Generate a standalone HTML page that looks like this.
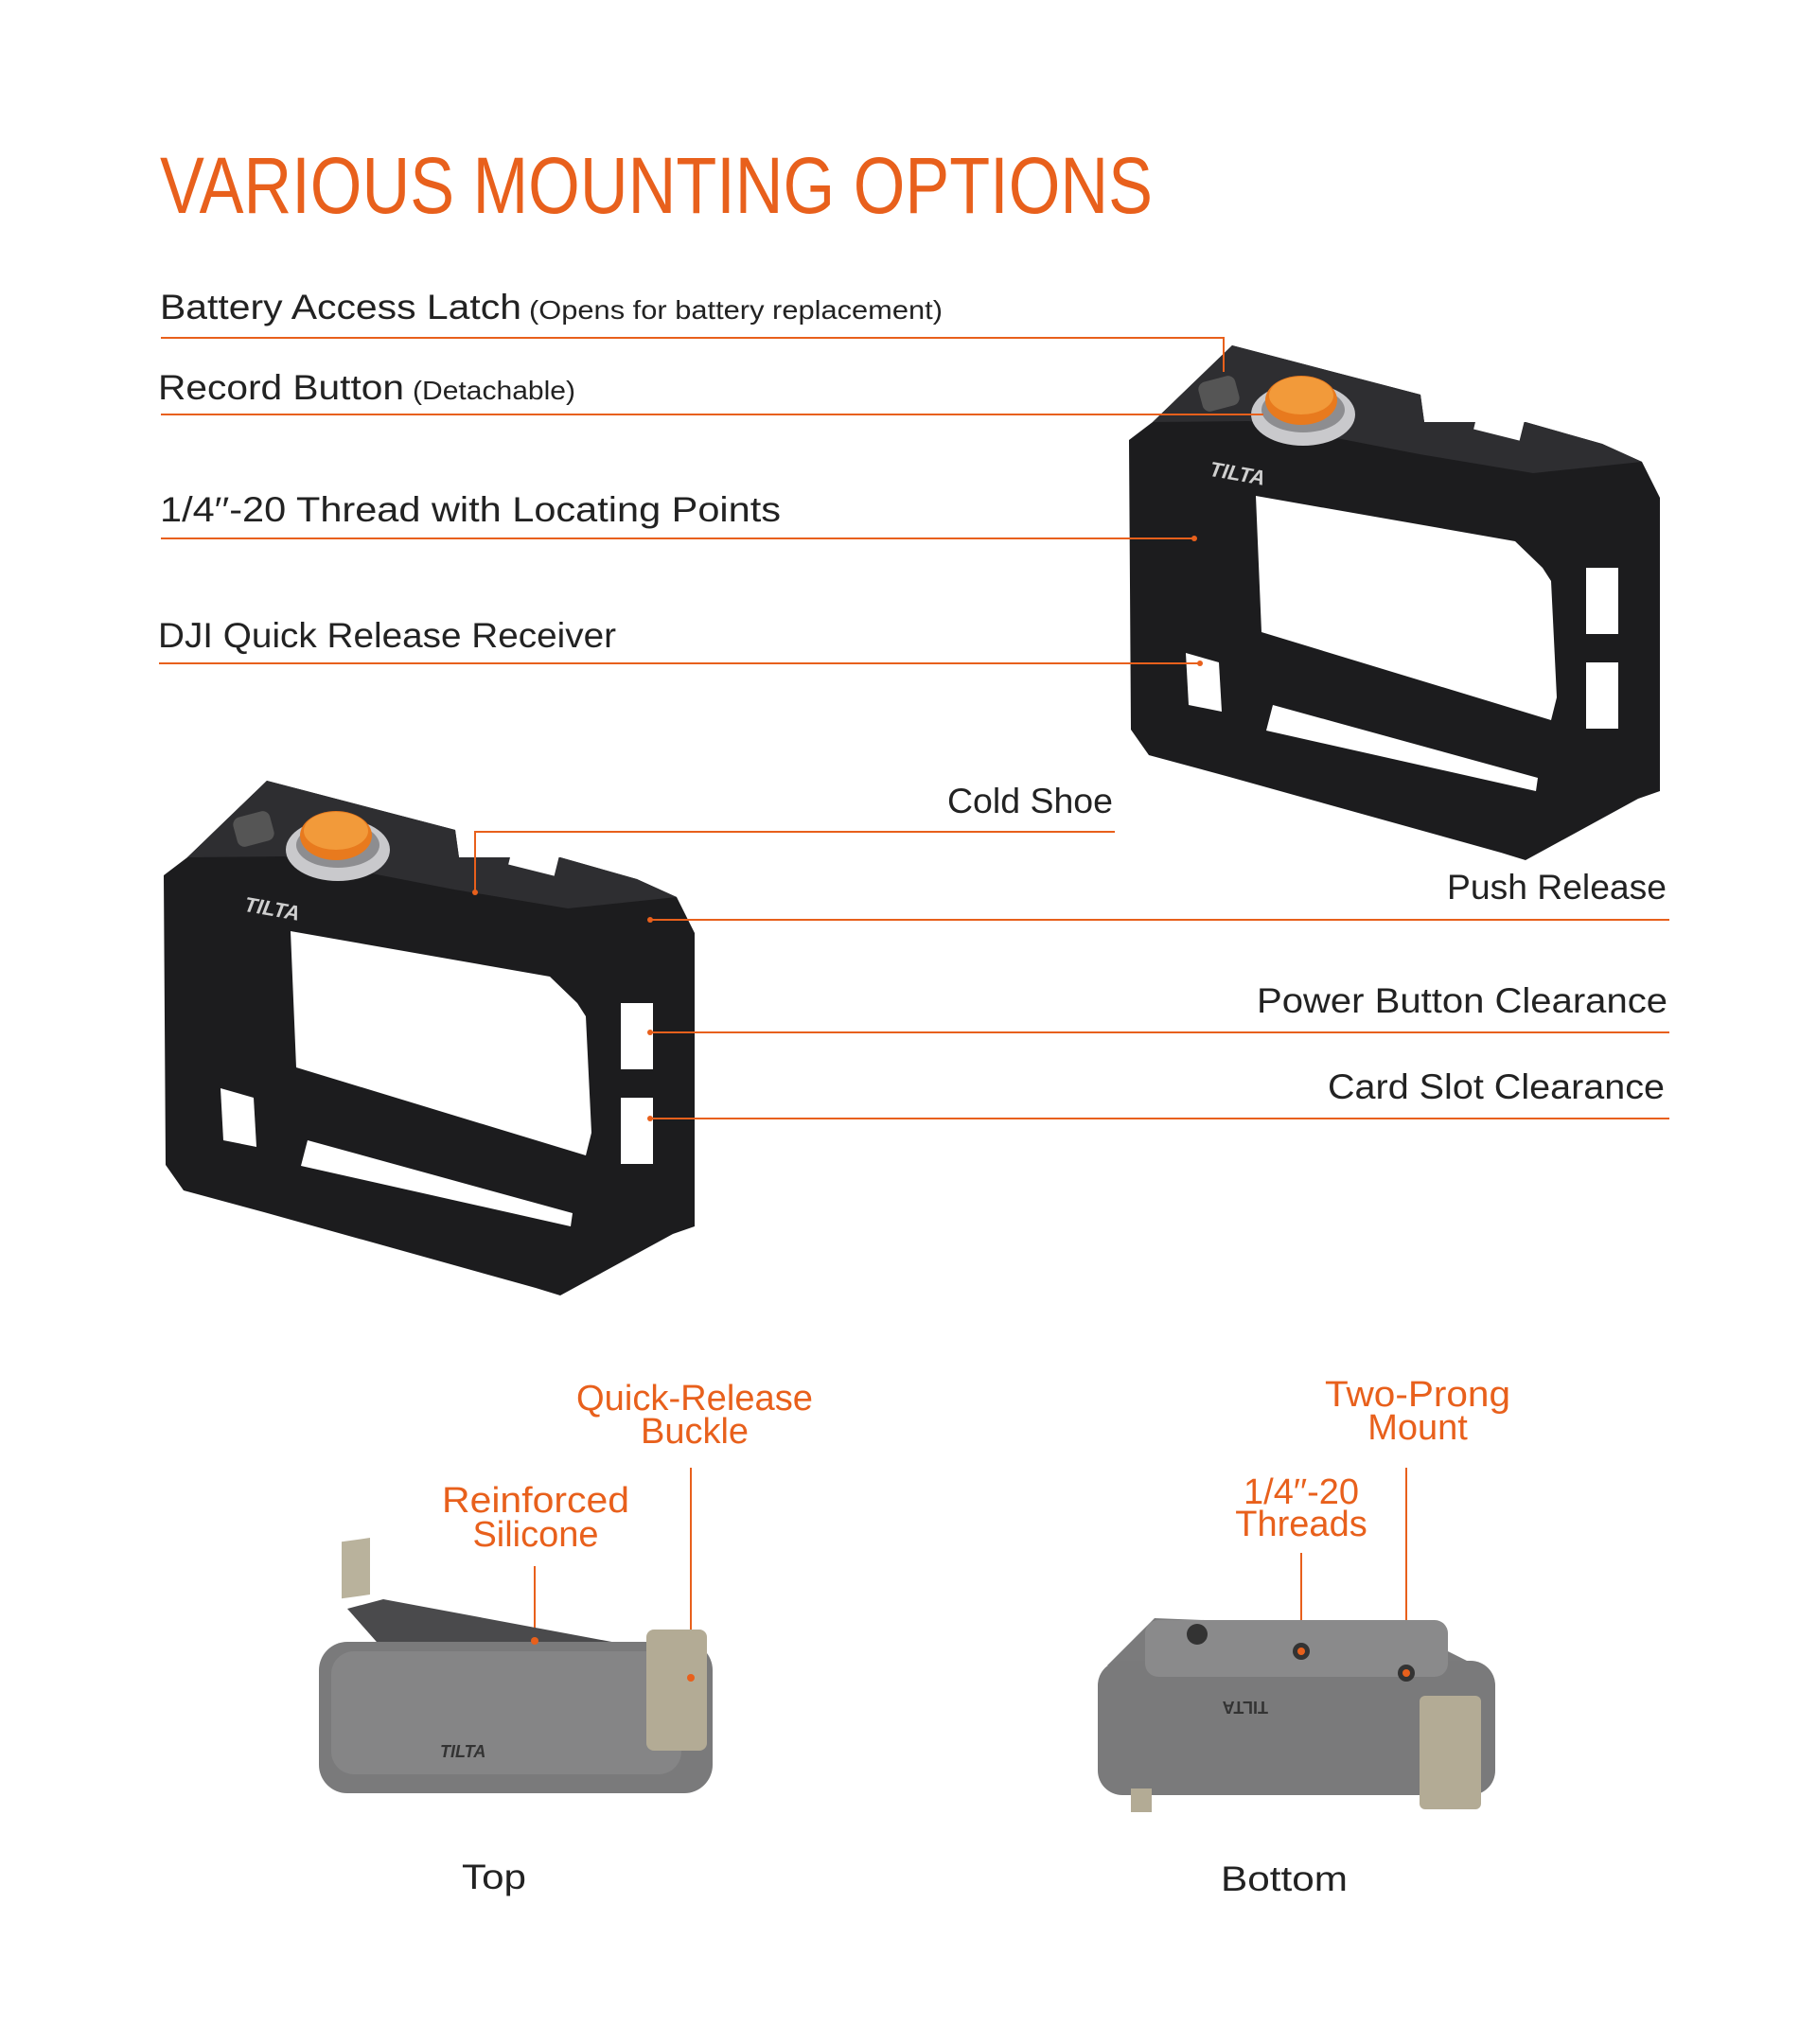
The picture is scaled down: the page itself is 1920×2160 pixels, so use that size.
<!DOCTYPE html>
<html><head><meta charset="utf-8"><style>
html,body{margin:0;padding:0;background:#fff;}
svg{display:block}
text{font-family:"Liberation Sans",sans-serif;}
</style></head><body>
<svg width="1920" height="2160" viewBox="0 0 1920 2160" xmlns="http://www.w3.org/2000/svg">
<defs>
<g id="cage">
 <polygon fill="#1c1c1e" points="282,825 481,877 485,906 592,906 673,929 715,948 734,986 734,1296 711,1304 592,1369 566,1361 279,1281 194,1258 175,1231 173,925 198,906"/>
 <polygon fill="#2e2e31" points="282,825 481,877 485,906 592,906 673,929 715,948 600,960 480,940 300,905 198,906"/>
 <polygon fill="#fff" points="307,984 581,1032 610,1060 619,1074 625,1197 619,1221 313,1128"/>
 <polygon fill="#fff" points="325,1205 605,1282 603,1296 318,1232"/>
 <rect x="656" y="1060" width="34" height="70" fill="#fff"/>
 <rect x="656" y="1160" width="34" height="70" fill="#fff"/>
 <polygon fill="#fff" points="233,1150 268,1160 271,1212 236,1205"/>
 <rect x="540" y="890" width="50" height="30" fill="#fff" transform="rotate(14 565 905)"/>
 <ellipse cx="357" cy="898" rx="55" ry="33" fill="#c9c9cc"/>
 <ellipse cx="357" cy="893" rx="44" ry="24" fill="#8d8d90"/>
 <ellipse cx="355" cy="883" rx="38" ry="26" fill="#e87a1e"/>
 <ellipse cx="355" cy="878" rx="34" ry="20" fill="#f29a3a"/>
 <rect x="248" y="860" width="40" height="32" rx="8" fill="#555" transform="rotate(-15 268 876)"/>
 <text x="258" y="970" font-size="22" font-weight="bold" font-style="italic" fill="#cfcfcf" transform="rotate(10 300 962)">TILTA</text>
</g>
</defs>

<text x="169" y="225" font-size="84" fill="#e8601c" textLength="1049" lengthAdjust="spacingAndGlyphs">VARIOUS MOUNTING OPTIONS</text>

<use href="#cage" transform="translate(1020,-460)"/>
<use href="#cage"/>

<g fill="#222" font-size="37">
 <text x="169" y="337" textLength="382" lengthAdjust="spacingAndGlyphs">Battery Access Latch</text>
 <text x="559" y="337" font-size="28" textLength="437" lengthAdjust="spacingAndGlyphs">(Opens for battery replacement)</text>
 <text x="167" y="422" textLength="260" lengthAdjust="spacingAndGlyphs">Record Button</text>
 <text x="436" y="422" font-size="28" textLength="172" lengthAdjust="spacingAndGlyphs">(Detachable)</text>
 <text x="169" y="551" textLength="656" lengthAdjust="spacingAndGlyphs">1/4′′-20 Thread with Locating Points</text>
 <text x="167" y="684" textLength="484" lengthAdjust="spacingAndGlyphs">DJI Quick Release Receiver</text>
 <text x="1176" y="859" text-anchor="end" textLength="175" lengthAdjust="spacingAndGlyphs">Cold Shoe</text>
 <text x="1761" y="950" text-anchor="end" textLength="232" lengthAdjust="spacingAndGlyphs">Push Release</text>
 <text x="1762" y="1070" text-anchor="end" textLength="434" lengthAdjust="spacingAndGlyphs">Power Button Clearance</text>
 <text x="1759" y="1161" text-anchor="end" textLength="356" lengthAdjust="spacingAndGlyphs">Card Slot Clearance</text>
 <text x="522" y="1996" text-anchor="middle" textLength="68" lengthAdjust="spacingAndGlyphs">Top</text>
 <text x="1357" y="1998" text-anchor="middle" textLength="134" lengthAdjust="spacingAndGlyphs">Bottom</text>
</g>

<g stroke="#e8601c" stroke-width="2" fill="none">
 <polyline points="170,357 1293,357 1293,393"/>
 <line x1="170" y1="438" x2="1335" y2="438"/>
 <line x1="170" y1="569" x2="1262" y2="569"/>
 <line x1="168" y1="701" x2="1268" y2="701"/>
 <polyline points="1178,879 502,879 502,943"/>
 <line x1="687" y1="972" x2="1764" y2="972"/>
 <line x1="687" y1="1091" x2="1764" y2="1091"/>
 <line x1="687" y1="1182" x2="1764" y2="1182"/>
 <line x1="730" y1="1551" x2="730" y2="1773"/>
 <line x1="565" y1="1655" x2="565" y2="1734"/>
 <line x1="1486" y1="1551" x2="1486" y2="1768"/>
 <line x1="1375" y1="1641" x2="1375" y2="1745"/>
</g>
<g fill="#e8601c">
 <circle cx="1262" cy="569" r="3"/><circle cx="1268" cy="701" r="3"/>
 <circle cx="502" cy="943" r="3"/><circle cx="687" cy="972" r="3"/>
 <circle cx="687" cy="1091" r="3"/><circle cx="687" cy="1182" r="3"/>
</g>

<!-- Top mount -->
<polygon fill="#4a4a4c" points="367,1700 405,1690 700,1745 710,1760 420,1760"/>
<rect x="361" y="1680" width="30" height="60" fill="#b9b29c" transform="skewY(-8)"/>
<rect x="337" y="1735" width="416" height="160" rx="30" fill="#7a7a7b"/>
<rect x="350" y="1745" width="370" height="130" rx="24" fill="#858586"/>
<rect x="683" y="1722" width="64" height="128" rx="8" fill="#b3ab95"/>
<circle cx="565" cy="1734" r="4" fill="#e8601c"/>
<circle cx="730" cy="1773" r="4" fill="#e8601c"/>
<text x="465" y="1857" font-size="18" font-weight="bold" font-style="italic" fill="#333">TILTA</text>

<!-- Bottom mount -->
<polygon fill="#7b7b7c" points="1220,1710 1480,1720 1560,1760 1240,1760 1170,1760"/>
<rect x="1160" y="1755" width="420" height="142" rx="26" fill="#7a7a7b"/>
<rect x="1210" y="1712" width="320" height="60" rx="14" fill="#8a8a8b"/>
<circle cx="1265" cy="1727" r="11" fill="#333"/>
<circle cx="1375" cy="1745" r="9" fill="#333"/>
<circle cx="1486" cy="1768" r="9" fill="#333"/>
<rect x="1500" y="1792" width="65" height="120" rx="6" fill="#b3ab95"/>
<rect x="1195" y="1890" width="22" height="25" fill="#b3ab95"/>
<circle cx="1375" cy="1745" r="4" fill="#e8601c"/>
<circle cx="1486" cy="1768" r="4" fill="#e8601c"/>
<text x="1290" y="1810" font-size="18" font-weight="bold" fill="#333" transform="rotate(180 1315 1804)">TILTA</text>

<g fill="#e8601c" font-size="38" text-anchor="middle">
 <text x="734" y="1490" textLength="250" lengthAdjust="spacingAndGlyphs">Quick-Release</text>
 <text x="734" y="1525">Buckle</text>
 <text x="566" y="1598" textLength="198" lengthAdjust="spacingAndGlyphs">Reinforced</text>
 <text x="566" y="1634">Silicone</text>
 <text x="1498" y="1486" textLength="196" lengthAdjust="spacingAndGlyphs">Two-Prong</text>
 <text x="1498" y="1521">Mount</text>
 <text x="1375" y="1589">1/4′′-20</text>
 <text x="1375" y="1623">Threads</text>
</g>
</svg>
</body></html>
